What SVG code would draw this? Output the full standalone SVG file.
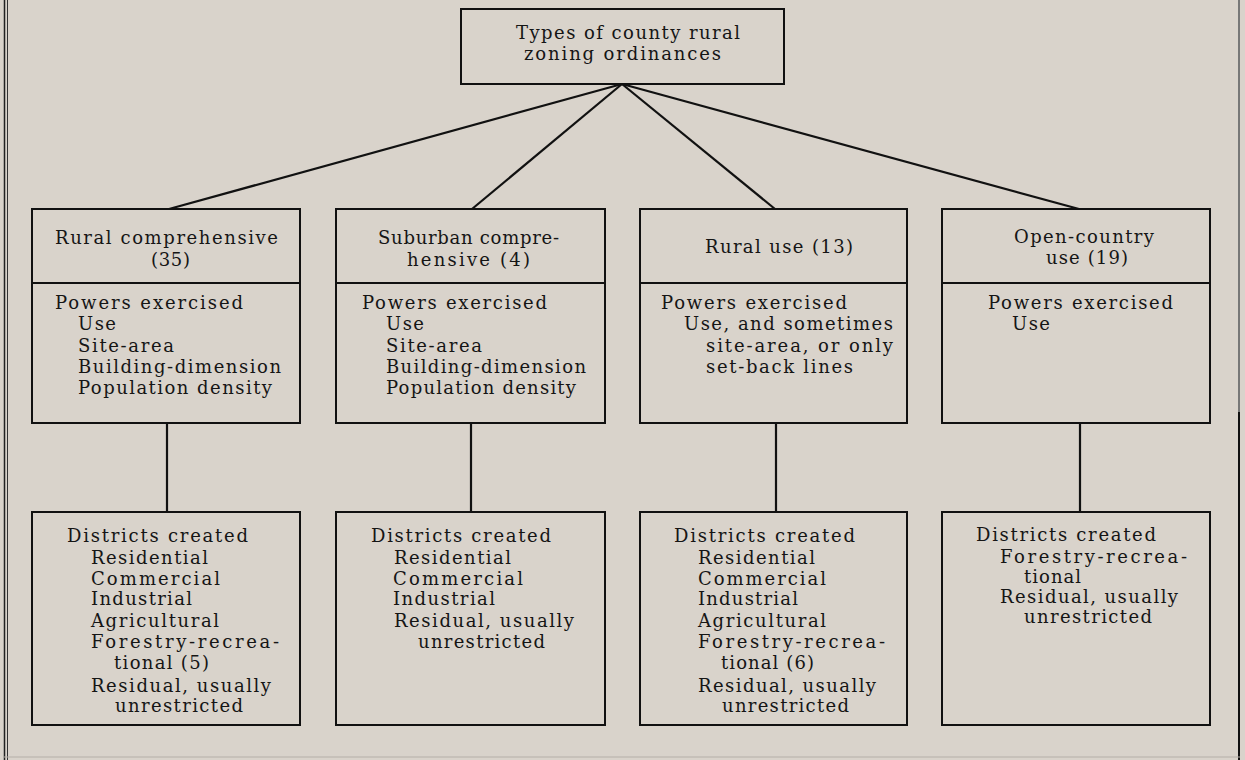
<svg xmlns="http://www.w3.org/2000/svg" width="1245" height="760" viewBox="0 0 1245 760">
<style>
.bg{fill:#d9d3cb}
.box{fill:none;stroke:#111;stroke-width:2}
.conn{stroke:#111;stroke-width:2.2;fill:none}
text{font-family:"DejaVu Serif","Liberation Serif",serif;font-size:18px;fill:#151515}
</style>
<rect class="bg" x="0" y="0" width="1245" height="760"/>
<g id="frame">
<line x1="4.5" y1="0" x2="4.5" y2="760" stroke="#222" stroke-width="1.5"/>
<line x1="7.5" y1="0" x2="7.5" y2="760" stroke="#333" stroke-width="1"/>
<line x1="1239" y1="0" x2="1239" y2="412" stroke="#777" stroke-width="2"/>
<line x1="1239" y1="412" x2="1239" y2="760" stroke="#111" stroke-width="2"/>
<line x1="4" y1="757" x2="1240" y2="757" stroke="#b5afa8" stroke-width="1"/>
</g>
<g id="connectors">
<line class="conn" x1="622" y1="84" x2="169" y2="209"/>
<line class="conn" x1="622" y1="84" x2="472" y2="209"/>
<line class="conn" x1="622" y1="84" x2="775" y2="209"/>
<line class="conn" x1="622" y1="84" x2="1079" y2="209"/>
<line class="conn" x1="167" y1="423" x2="167" y2="512"/>
<line class="conn" x1="471" y1="423" x2="471" y2="512"/>
<line class="conn" x1="776" y1="423" x2="776" y2="512"/>
<line class="conn" x1="1080" y1="423" x2="1080" y2="512"/>
</g>
<g id="root">
<rect class="box" x="461" y="9" width="323" height="75"/>
<text x="516" y="39" textLength="224">Types of county rural</text>
<text x="524" y="60" textLength="197">zoning ordinances</text>
</g>
<g id="rural-comprehensive">
<rect class="box" x="32" y="209" width="268" height="214"/>
<line class="box" x1="32" y1="283" x2="300" y2="283"/>
<text x="55" y="244" textLength="223">Rural comprehensive</text>
<text x="151" y="266" textLength="39">(35)</text>
<text x="55" y="309" textLength="188">Powers exercised</text>
<text x="78" y="330" textLength="38">Use</text>
<text x="78" y="352" textLength="96">Site-area</text>
<text x="78" y="373" textLength="203">Building-dimension</text>
<text x="78" y="394" textLength="194">Population density</text>
</g>
<g id="suburban-comprehensive">
<rect class="box" x="336" y="209" width="269" height="214"/>
<line class="box" x1="336" y1="283" x2="605" y2="283"/>
<text x="378" y="244" textLength="181">Suburban compre-</text>
<text x="407" y="266" textLength="123">hensive (4)</text>
<text x="362" y="309" textLength="185">Powers exercised</text>
<text x="386" y="330" textLength="38">Use</text>
<text x="386" y="352" textLength="96">Site-area</text>
<text x="386" y="373" textLength="200">Building-dimension</text>
<text x="386" y="394" textLength="190">Population density</text>
</g>
<g id="rural-use">
<rect class="box" x="640" y="209" width="267" height="214"/>
<line class="box" x1="640" y1="283" x2="907" y2="283"/>
<text x="705" y="253" textLength="148">Rural use (13)</text>
<text x="661" y="309" textLength="186">Powers exercised</text>
<text x="684" y="330" textLength="209">Use, and sometimes</text>
<text x="706" y="352" textLength="187">site-area, or only</text>
<text x="706" y="373" textLength="147">set-back lines</text>
</g>
<g id="open-country-use">
<rect class="box" x="942" y="209" width="268" height="214"/>
<line class="box" x1="942" y1="283" x2="1210" y2="283"/>
<text x="1014" y="243" textLength="140">Open-country</text>
<text x="1046" y="264" textLength="82">use (19)</text>
<text x="988" y="309" textLength="185">Powers exercised</text>
<text x="1012" y="330" textLength="38">Use</text>
</g>
<g id="districts-rural-comprehensive">
<rect class="box" x="32" y="512" width="268" height="213"/>
<text x="67" y="542" textLength="181">Districts created</text>
<text x="91" y="564" textLength="117">Residential</text>
<text x="91" y="585" textLength="129">Commercial</text>
<text x="91" y="605" textLength="101">Industrial</text>
<text x="91" y="627" textLength="128">Agricultural</text>
<text x="91" y="648" textLength="188">Forestry-recrea-</text>
<text x="114" y="669" textLength="95">tional (5)</text>
<text x="91" y="692" textLength="180">Residual, usually</text>
<text x="115" y="712" textLength="128">unrestricted</text>
</g>
<g id="districts-suburban-comprehensive">
<rect class="box" x="336" y="512" width="269" height="213"/>
<text x="371" y="542" textLength="180">Districts created</text>
<text x="394" y="564" textLength="117">Residential</text>
<text x="393" y="585" textLength="130">Commercial</text>
<text x="393" y="605" textLength="102">Industrial</text>
<text x="394" y="627" textLength="180">Residual, usually</text>
<text x="418" y="648" textLength="127">unrestricted</text>
</g>
<g id="districts-rural-use">
<rect class="box" x="640" y="512" width="267" height="213"/>
<text x="674" y="542" textLength="181">Districts created</text>
<text x="698" y="564" textLength="117">Residential</text>
<text x="698" y="585" textLength="128">Commercial</text>
<text x="698" y="605" textLength="100">Industrial</text>
<text x="698" y="627" textLength="128">Agricultural</text>
<text x="698" y="648" textLength="187">Forestry-recrea-</text>
<text x="721" y="669" textLength="93">tional (6)</text>
<text x="698" y="692" textLength="178">Residual, usually</text>
<text x="722" y="712" textLength="127">unrestricted</text>
</g>
<g id="districts-open-country-use">
<rect class="box" x="942" y="512" width="268" height="213"/>
<text x="976" y="541" textLength="180">Districts created</text>
<text x="1000" y="563" textLength="187">Forestry-recrea-</text>
<text x="1024" y="583" textLength="57">tional</text>
<text x="1000" y="603" textLength="178">Residual, usually</text>
<text x="1024" y="623" textLength="128">unrestricted</text>
</g>
</svg>
